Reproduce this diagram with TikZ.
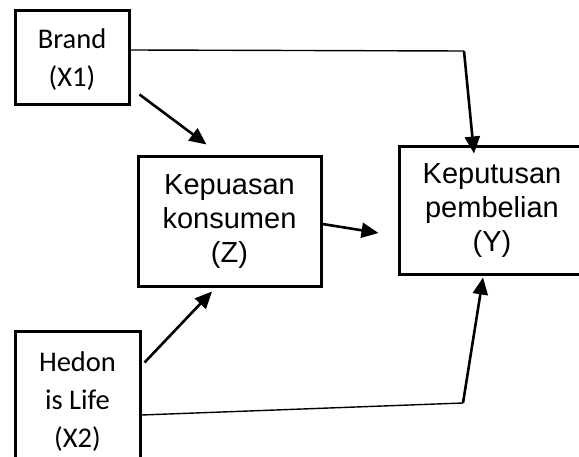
\documentclass[tikz,border=0pt]{standalone}
\usepackage{fontspec}
\usepackage{tikz}
\usetikzlibrary{arrows.meta}

\newfontfamily\calibrifont{Carlito}
\newfontfamily\arialfont{Liberation Sans}

\tikzset{
  varbox/.style={draw, line width=3pt, align=center, inner sep=0pt},
  calibox/.style={varbox, font=\calibrifont\fontsize{28.5}{38}\selectfont},
  arialbox/.style={varbox, font=\arialfont\fontsize{29}{34}\selectfont},
  thinline/.style={line width=1.4pt},
  arr/.style={line width=2.6pt, -{Triangle[length=17pt,width=15pt]}}
}

\begin{document}
\begin{tikzpicture}[x=1pt, y=-1pt]
\clip (0, 0) rectangle (579, 457);

\node[calibox, minimum width=114pt, minimum height=94pt, text depth=0pt] (brand) at (72, 58) {Brand\\(X1)};
\node[calibox, minimum width=125pt, minimum height=140pt] (hedon) at (77.5, 402) {Hedon\\is Life\\(X2)};
\node[arialbox, minimum width=183pt, minimum height=130pt] (kepuasan) at (229.5, 222) {Kepuasan\\konsumen\\(Z)};
\node[arialbox, minimum width=186pt, minimum height=128pt] (keputusan) at (492, 211) {Keputusan\\pembelian\\(Y)};

\coordinate (topbend) at (464, 51);
\coordinate (lowbend) at (463, 403);

\draw[thinline] ([yshift=8pt]brand.east) -- (topbend);
\draw[arr] (topbend) -- ([xshift=-18pt, yshift=-8pt]keputusan.north);
\draw[arr] ([xshift=9pt, yshift=12pt]brand.south east) -- ([xshift=70pt, yshift=11pt]kepuasan.north west);
\draw[arr] ([yshift=-2pt]kepuasan.east) -- ([xshift=-19pt, yshift=-22pt]keputusan.west);
\draw[arr] ([xshift=3pt, yshift=-32pt]hedon.north east) -- ([xshift=-17.5pt, yshift=-3pt]kepuasan.south);
\draw[thinline] ([yshift=-13pt]hedon.east) -- (lowbend);
\draw[arr] (lowbend) -- ([xshift=-9pt, yshift=-1pt]keputusan.south);
\end{tikzpicture}
\end{document}
